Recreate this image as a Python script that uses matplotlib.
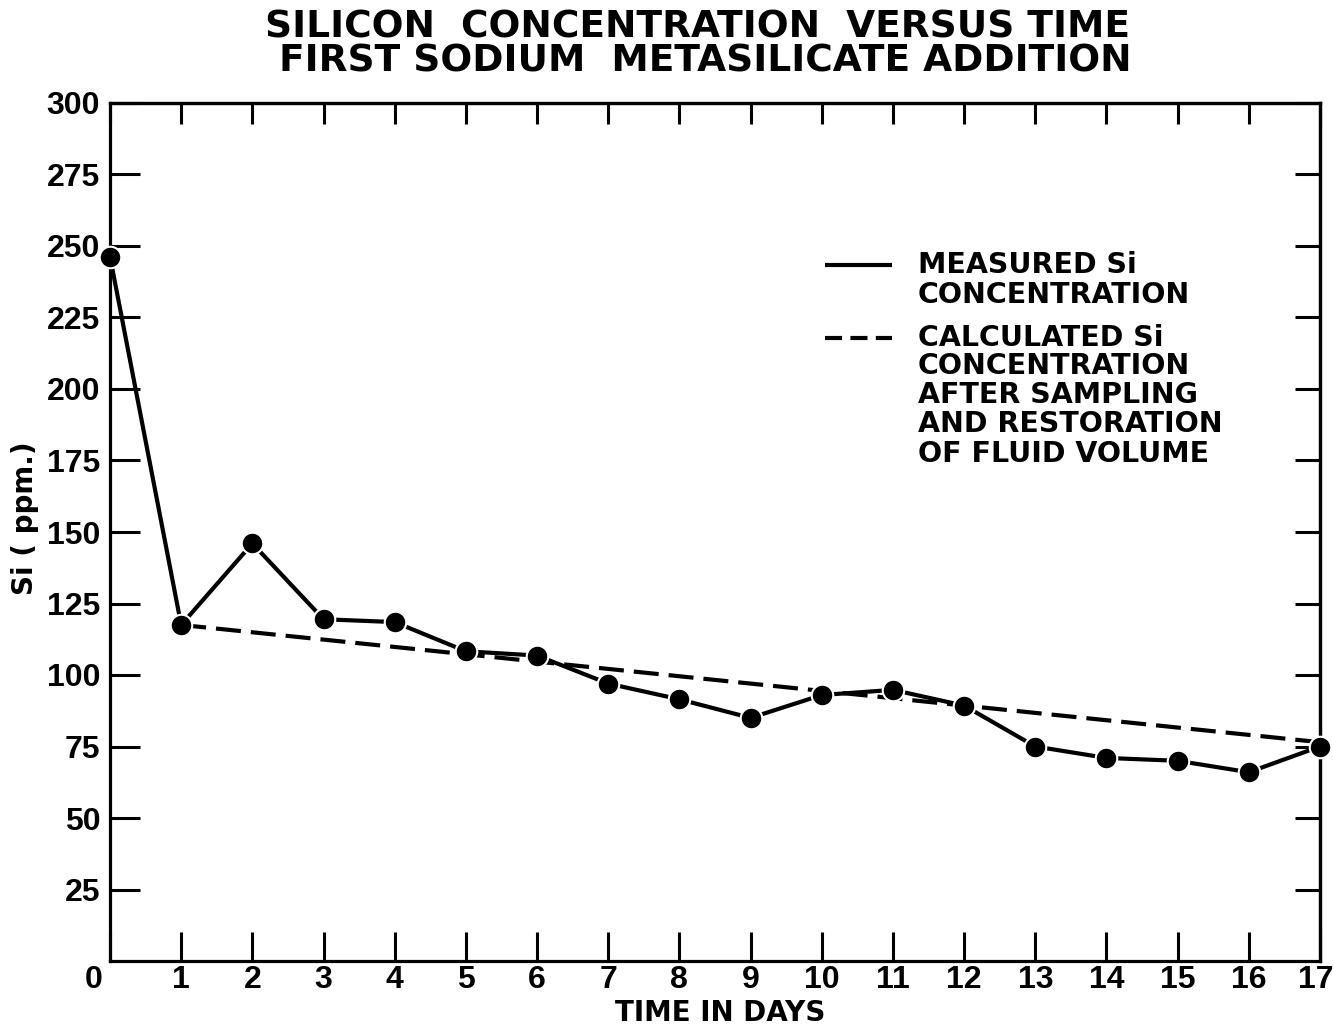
import matplotlib
matplotlib.use("Agg")
import matplotlib.pyplot as plt
from matplotlib.transforms import ScaledTranslation

# ---- data ----
days = list(range(0, 18))
measured_si = [246.3, 117.5, 146.0, 119.5, 118.5, 108.3, 106.8, 97.0, 91.5,
               85.0, 93.0, 94.8, 89.3, 75.0, 71.0, 70.0, 66.0, 75.0]
calc_days = [1, 17]
calc_si = [117.5, 76.5]
x_ticks = list(range(0, 18))
x_ticklabels = [str(d) for d in x_ticks]
y_ticks = list(range(25, 301, 25))
y_ticklabels = [str(v) for v in y_ticks]

title_lines = ["SILICON  CONCENTRATION  VERSUS TIME",
               "FIRST SODIUM  METASILICATE ADDITION"]
legend_measured = ["MEASURED Si", "CONCENTRATION"]
legend_calc = ["CALCULATED Si", "CONCENTRATION", "AFTER SAMPLING",
               "AND RESTORATION", "OF FLUID VOLUME"]

W, H = 1333, 1027
fig = plt.figure(figsize=(W / 100, H / 100), dpi=100)
L, R, T, B = 110, 1320, 103, 961
ax = fig.add_axes([L / W, 1 - B / H, (R - L) / W, (B - T) / H])

bold = dict(family="DejaVu Sans", weight="bold")
tickfont = dict(family=["Liberation Sans", "DejaVu Sans"], weight="bold")
lw = 3.0

ax.plot(calc_days, calc_si, color="black", lw=lw, dashes=(6.0, 2.4),
        dash_capstyle="butt", zorder=2, clip_on=False)
ax.plot(days, measured_si, color="black", lw=lw, zorder=3, clip_on=False)
ax.plot(days, measured_si, linestyle="none", marker="o", markersize=15.5,
        markerfacecolor="black", markeredgecolor="white", markeredgewidth=1.5,
        zorder=4, clip_on=False)

ax.set_xlim(0, 17)
ax.set_ylim(0, 300)
ax.set_xticks(x_ticks)
ax.set_xticklabels(x_ticklabels, fontsize=23, **tickfont)
ax.set_yticks(y_ticks)
ax.set_yticklabels(y_ticklabels, fontsize=23, **tickfont)
ax.tick_params(axis="x", direction="in", length=21, width=2.2, pad=3,
               top=False, bottom=True)
ax.tick_params(axis="y", direction="in", length=21.5, width=2.2, pad=7,
               left=True, right=False)
for s in ax.spines.values():
    s.set_linewidth(2.3)

# nudge the end labels like the hand-lettered original
xt = ax.get_xticklabels()
xt[0].set_transform(xt[0].get_transform() + ScaledTranslation(-16 / 100, 0, fig.dpi_scale_trans))
xt[-1].set_transform(xt[-1].get_transform() + ScaledTranslation(-4 / 100, 0, fig.dpi_scale_trans))

sx = ax.secondary_xaxis("top")
sx.set_xticks(x_ticks)
sx.tick_params(direction="in", length=15, width=2.2, labeltop=False)
sx.spines["top"].set_linewidth(2.3)
sy = ax.secondary_yaxis("right")
sy.set_yticks(y_ticks)
sy.tick_params(direction="in", length=18, width=2.2, labelright=False)
sy.spines["right"].set_linewidth(2.3)


def ax_y(py):
    return (B - py) / (B - T)


def ax_x(px):
    return (px - L) / (R - L)


ax.set_xlabel("TIME IN DAYS", fontsize=20, va="center", **bold)
ax.xaxis.set_label_coords(ax_x(720), ax_y(1013))
ax.set_ylabel("Si ( ppm.)", fontsize=20, va="center", **bold)
ax.yaxis.set_label_coords(ax_x(25), ax_y(518))

# title
tfont = dict(family="DejaVu Sans", weight="bold")
fig.text(697 / W, 1 - 28 / H, title_lines[0], ha="center", va="center",
         fontsize=27, **tfont)
fig.text(705 / W, 1 - 62 / H, title_lines[1], ha="center", va="center",
         fontsize=27, **tfont)

# legend (drawn manually to mimic the hand-lettered layout)
ax.plot([ax_x(825), ax_x(892)], [ax_y(265), ax_y(265)], color="black",
        lw=lw, transform=ax.transAxes, solid_capstyle="butt")
ax.plot([ax_x(825), ax_x(892)], [ax_y(338), ax_y(338)], color="black",
        lw=lw, transform=ax.transAxes, dashes=(4.1, 2.0), dash_capstyle="butt")
for txt, py in zip(legend_measured, [265, 295]):
    ax.text(ax_x(918), ax_y(py), txt, transform=ax.transAxes, ha="left",
            va="center", fontsize=20.5, **bold)
for txt, py in zip(legend_calc, [338, 366, 395, 424, 454]):
    ax.text(ax_x(918), ax_y(py), txt, transform=ax.transAxes, ha="left",
            va="center", fontsize=20.5, **bold)

fig.savefig("out.png", dpi=100, facecolor="white")
